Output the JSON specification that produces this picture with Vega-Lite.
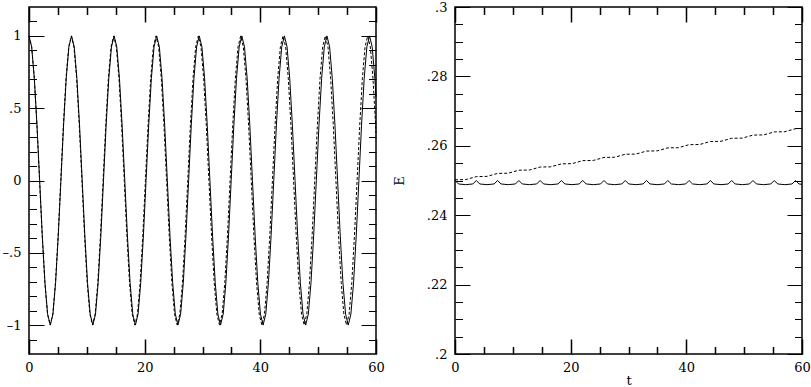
{
 "$schema": "https://vega.github.io/schema/vega-lite/v6.json",
 "padding": {"left": 1, "top": 0, "right": 0, "bottom": 0},
 "background": "white",
 "config": {
  "view": {"stroke": "black", "strokeWidth": 1.5},
  "axis": {"ticks": false, "domain": false, "grid": true, "gridColor": "black", "gridWidth": 1.2, "gridOpacity": 1, "labelFont": "DejaVu Serif", "labelFontSize": 13, "labelColor": "black", "titleFont": "DejaVu Serif", "titleFontSize": 13, "titleFontWeight": "normal", "titleColor": "black", "labelFlush": false, "labelOverlap": false}
 },
 "datasets": {
  "xs": [
   {"t":0,"x":1},{"t":0.46,"x":0.924},{"t":0.92,"x":0.707},{"t":1.38,"x":0.383},{"t":1.84,"x":0},{"t":2.3,"x":-0.383},{"t":2.76,"x":-0.707},{"t":3.22,"x":-0.924},{"t":3.68,"x":-1},{"t":4.14,"x":-0.924},{"t":4.6,"x":-0.707},{"t":5.06,"x":-0.383},{"t":5.52,"x":0},{"t":5.98,"x":0.383},{"t":6.44,"x":0.707},{"t":6.9,"x":0.924},
   {"t":7.36,"x":1},{"t":7.82,"x":0.924},{"t":8.28,"x":0.707},{"t":8.74,"x":0.383},{"t":9.2,"x":0},{"t":9.66,"x":-0.383},{"t":10.12,"x":-0.707},{"t":10.58,"x":-0.924},{"t":11.04,"x":-1},{"t":11.5,"x":-0.924},{"t":11.96,"x":-0.707},{"t":12.42,"x":-0.383},{"t":12.88,"x":0},{"t":13.34,"x":0.383},{"t":13.8,"x":0.707},{"t":14.26,"x":0.924},
   {"t":14.72,"x":1},{"t":15.18,"x":0.924},{"t":15.64,"x":0.707},{"t":16.1,"x":0.383},{"t":16.56,"x":0},{"t":17.02,"x":-0.383},{"t":17.48,"x":-0.707},{"t":17.94,"x":-0.924},{"t":18.4,"x":-1},{"t":18.86,"x":-0.924},{"t":19.32,"x":-0.707},{"t":19.78,"x":-0.383},{"t":20.24,"x":0},{"t":20.7,"x":0.383},{"t":21.16,"x":0.707},{"t":21.62,"x":0.924},
   {"t":22.08,"x":1},{"t":22.54,"x":0.924},{"t":23,"x":0.707},{"t":23.46,"x":0.383},{"t":23.92,"x":0},{"t":24.38,"x":-0.383},{"t":24.84,"x":-0.707},{"t":25.3,"x":-0.924},{"t":25.76,"x":-1},{"t":26.22,"x":-0.924},{"t":26.68,"x":-0.707},{"t":27.14,"x":-0.383},{"t":27.6,"x":0},{"t":28.06,"x":0.383},{"t":28.52,"x":0.707},{"t":28.98,"x":0.924},
   {"t":29.44,"x":1},{"t":29.9,"x":0.924},{"t":30.36,"x":0.707},{"t":30.82,"x":0.383},{"t":31.28,"x":0},{"t":31.74,"x":-0.383},{"t":32.2,"x":-0.707},{"t":32.66,"x":-0.924},{"t":33.12,"x":-1},{"t":33.58,"x":-0.924},{"t":34.04,"x":-0.707},{"t":34.5,"x":-0.383},{"t":34.96,"x":0},{"t":35.42,"x":0.383},{"t":35.88,"x":0.707},{"t":36.34,"x":0.924},
   {"t":36.8,"x":1},{"t":37.26,"x":0.924},{"t":37.72,"x":0.707},{"t":38.18,"x":0.383},{"t":38.64,"x":0},{"t":39.1,"x":-0.383},{"t":39.56,"x":-0.707},{"t":40.02,"x":-0.924},{"t":40.48,"x":-1},{"t":40.94,"x":-0.924},{"t":41.4,"x":-0.707},{"t":41.86,"x":-0.383},{"t":42.32,"x":0},{"t":42.78,"x":0.383},{"t":43.24,"x":0.707},{"t":43.7,"x":0.924},
   {"t":44.16,"x":1},{"t":44.62,"x":0.924},{"t":45.08,"x":0.707},{"t":45.54,"x":0.383},{"t":46,"x":0},{"t":46.46,"x":-0.383},{"t":46.92,"x":-0.707},{"t":47.38,"x":-0.924},{"t":47.84,"x":-1},{"t":48.3,"x":-0.924},{"t":48.76,"x":-0.707},{"t":49.22,"x":-0.383},{"t":49.68,"x":0},{"t":50.14,"x":0.383},{"t":50.6,"x":0.707},{"t":51.06,"x":0.924},
   {"t":51.52,"x":1},{"t":51.98,"x":0.924},{"t":52.44,"x":0.707},{"t":52.9,"x":0.383},{"t":53.36,"x":0},{"t":53.82,"x":-0.383},{"t":54.28,"x":-0.707},{"t":54.74,"x":-0.924},{"t":55.2,"x":-1},{"t":55.66,"x":-0.924},{"t":56.12,"x":-0.707},{"t":56.58,"x":-0.383},{"t":57.04,"x":0},{"t":57.5,"x":0.383},{"t":57.96,"x":0.707},{"t":58.42,"x":0.924},
   {"t":58.88,"x":1},{"t":59.34,"x":0.924},{"t":59.8,"x":0.707},{"t":60,"x":0.577}
  ],
  "xd": [
   {"t":0,"x":1},{"t":0.458,"x":0.924},{"t":0.915,"x":0.707},{"t":1.373,"x":0.383},{"t":1.83,"x":0},{"t":2.288,"x":-0.383},{"t":2.745,"x":-0.707},{"t":3.203,"x":-0.924},{"t":3.66,"x":-1},{"t":4.118,"x":-0.924},{"t":4.575,"x":-0.707},{"t":5.033,"x":-0.383},{"t":5.49,"x":0},{"t":5.948,"x":0.383},{"t":6.405,"x":0.707},{"t":6.863,"x":0.924},
   {"t":7.32,"x":1},{"t":7.778,"x":0.924},{"t":8.235,"x":0.707},{"t":8.693,"x":0.383},{"t":9.15,"x":0},{"t":9.608,"x":-0.383},{"t":10.065,"x":-0.707},{"t":10.523,"x":-0.924},{"t":10.98,"x":-1},{"t":11.438,"x":-0.924},{"t":11.895,"x":-0.707},{"t":12.353,"x":-0.383},{"t":12.81,"x":0},{"t":13.268,"x":0.383},{"t":13.725,"x":0.707},{"t":14.183,"x":0.924},
   {"t":14.64,"x":1},{"t":15.098,"x":0.924},{"t":15.555,"x":0.707},{"t":16.013,"x":0.383},{"t":16.47,"x":0},{"t":16.928,"x":-0.383},{"t":17.385,"x":-0.707},{"t":17.843,"x":-0.924},{"t":18.3,"x":-1},{"t":18.758,"x":-0.924},{"t":19.215,"x":-0.707},{"t":19.673,"x":-0.383},{"t":20.13,"x":0},{"t":20.588,"x":0.383},{"t":21.045,"x":0.707},{"t":21.503,"x":0.924},
   {"t":21.96,"x":1},{"t":22.418,"x":0.924},{"t":22.875,"x":0.707},{"t":23.333,"x":0.383},{"t":23.79,"x":0},{"t":24.248,"x":-0.383},{"t":24.705,"x":-0.707},{"t":25.163,"x":-0.924},{"t":25.62,"x":-1},{"t":26.078,"x":-0.924},{"t":26.535,"x":-0.707},{"t":26.993,"x":-0.383},{"t":27.45,"x":0},{"t":27.908,"x":0.383},{"t":28.365,"x":0.707},{"t":28.823,"x":0.924},
   {"t":29.28,"x":1},{"t":29.738,"x":0.924},{"t":30.195,"x":0.707},{"t":30.653,"x":0.383},{"t":31.11,"x":0},{"t":31.568,"x":-0.383},{"t":32.025,"x":-0.707},{"t":32.483,"x":-0.924},{"t":32.94,"x":-1},{"t":33.398,"x":-0.924},{"t":33.855,"x":-0.707},{"t":34.313,"x":-0.383},{"t":34.77,"x":0},{"t":35.228,"x":0.383},{"t":35.685,"x":0.707},{"t":36.143,"x":0.924},
   {"t":36.6,"x":1},{"t":37.058,"x":0.924},{"t":37.515,"x":0.707},{"t":37.973,"x":0.383},{"t":38.43,"x":0},{"t":38.888,"x":-0.383},{"t":39.345,"x":-0.707},{"t":39.803,"x":-0.924},{"t":40.26,"x":-1},{"t":40.718,"x":-0.924},{"t":41.175,"x":-0.707},{"t":41.633,"x":-0.383},{"t":42.09,"x":0},{"t":42.548,"x":0.383},{"t":43.005,"x":0.707},{"t":43.463,"x":0.924},
   {"t":43.92,"x":1},{"t":44.378,"x":0.924},{"t":44.835,"x":0.707},{"t":45.293,"x":0.383},{"t":45.75,"x":0},{"t":46.208,"x":-0.383},{"t":46.665,"x":-0.707},{"t":47.123,"x":-0.924},{"t":47.58,"x":-1},{"t":48.038,"x":-0.924},{"t":48.495,"x":-0.707},{"t":48.953,"x":-0.383},{"t":49.41,"x":0},{"t":49.868,"x":0.383},{"t":50.325,"x":0.707},{"t":50.783,"x":0.924},
   {"t":51.24,"x":1},{"t":51.698,"x":0.924},{"t":52.155,"x":0.707},{"t":52.613,"x":0.383},{"t":53.07,"x":0},{"t":53.528,"x":-0.383},{"t":53.985,"x":-0.707},{"t":54.443,"x":-0.924},{"t":54.9,"x":-1},{"t":55.358,"x":-0.924},{"t":55.815,"x":-0.707},{"t":56.273,"x":-0.383},{"t":56.73,"x":0},{"t":57.188,"x":0.383},{"t":57.645,"x":0.707},{"t":58.103,"x":0.924},
   {"t":58.56,"x":1},{"t":59.018,"x":0.924},{"t":59.475,"x":0.707},{"t":59.933,"x":0.383},{"t":60,"x":0.329}
  ],
  "es": [
   {"t":0,"E":0.25},{"t":0.6,"E":0.249},{"t":1.84,"E":0.2488},{"t":3.08,"E":0.249},
   {"t":3.68,"E":0.25},{"t":4.28,"E":0.249},{"t":5.52,"E":0.2488},{"t":6.76,"E":0.249},
   {"t":7.36,"E":0.25},{"t":7.96,"E":0.249},{"t":9.2,"E":0.2488},{"t":10.44,"E":0.249},
   {"t":11.04,"E":0.25},{"t":11.64,"E":0.249},{"t":12.88,"E":0.2488},{"t":14.12,"E":0.249},
   {"t":14.72,"E":0.25},{"t":15.32,"E":0.249},{"t":16.56,"E":0.2488},{"t":17.8,"E":0.249},
   {"t":18.4,"E":0.25},{"t":19,"E":0.249},{"t":20.24,"E":0.2488},{"t":21.48,"E":0.249},
   {"t":22.08,"E":0.25},{"t":22.68,"E":0.249},{"t":23.92,"E":0.2488},{"t":25.16,"E":0.249},
   {"t":25.76,"E":0.25},{"t":26.36,"E":0.249},{"t":27.6,"E":0.2488},{"t":28.84,"E":0.249},
   {"t":29.44,"E":0.25},{"t":30.04,"E":0.249},{"t":31.28,"E":0.2488},{"t":32.52,"E":0.249},
   {"t":33.12,"E":0.25},{"t":33.72,"E":0.249},{"t":34.96,"E":0.2488},{"t":36.2,"E":0.249},
   {"t":36.8,"E":0.25},{"t":37.4,"E":0.249},{"t":38.64,"E":0.2488},{"t":39.88,"E":0.249},
   {"t":40.48,"E":0.25},{"t":41.08,"E":0.249},{"t":42.32,"E":0.2488},{"t":43.56,"E":0.249},
   {"t":44.16,"E":0.25},{"t":44.76,"E":0.249},{"t":46,"E":0.2488},{"t":47.24,"E":0.249},
   {"t":47.84,"E":0.25},{"t":48.44,"E":0.249},{"t":49.68,"E":0.2488},{"t":50.92,"E":0.249},
   {"t":51.52,"E":0.25},{"t":52.12,"E":0.249},{"t":53.36,"E":0.2488},{"t":54.6,"E":0.249},
   {"t":55.2,"E":0.25},{"t":55.8,"E":0.249},{"t":57.04,"E":0.2488},{"t":58.28,"E":0.249},
   {"t":58.88,"E":0.25},{"t":59.48,"E":0.249},{"t":60,"E":0.2489}
  ],
  "ed": [
   {"t":0,"E":0.2502},{"t":1.84,"E":0.25026},{"t":3.68,"E":0.25112},{"t":5.52,"E":0.25118},
   {"t":7.36,"E":0.25204},{"t":9.2,"E":0.2521},{"t":11.04,"E":0.25296},{"t":12.88,"E":0.25302},
   {"t":14.72,"E":0.25388},{"t":16.56,"E":0.25394},{"t":18.4,"E":0.2548},{"t":20.24,"E":0.25486},
   {"t":22.08,"E":0.25572},{"t":23.92,"E":0.25578},{"t":25.76,"E":0.25664},{"t":27.6,"E":0.2567},
   {"t":29.44,"E":0.25756},{"t":31.28,"E":0.25762},{"t":33.12,"E":0.25848},{"t":34.96,"E":0.25854},
   {"t":36.8,"E":0.2594},{"t":38.64,"E":0.25946},{"t":40.48,"E":0.26032},{"t":42.32,"E":0.26038},
   {"t":44.16,"E":0.26124},{"t":46,"E":0.2613},{"t":47.84,"E":0.26216},{"t":49.68,"E":0.26222},
   {"t":51.52,"E":0.26308},{"t":53.36,"E":0.26314},{"t":55.2,"E":0.264},{"t":57.04,"E":0.26406},
   {"t":58.88,"E":0.26492},{"t":60,"E":0.265}
  ]
 },
 "spacing": 79,
 "bounds": "flush",
 "hconcat": [
  {
   "width": 347, "height": 347,
   "encoding": {
    "x": {"field": "t", "type": "quantitative", "scale": {"domain": [0, 60], "nice": false, "zero": false},
          "axis": {"orient": "bottom", "title": null, "values": [0,5,10,15,20,25,30,35,40,45,50,55,60],
                   "labelExpr": "datum.value % 20 === 0 ? datum.label : ''",
                   "gridWidth": 1.5,
                   "gridDash": {"condition": {"test": "datum.value % 20 === 0", "value": [15, 317, 15, 1000]}, "value": [7.5, 332, 7.5, 1000]},
                   "labelPadding": 7}},
    "y": {"field": "x", "type": "quantitative", "scale": {"domain": [-1.2, 1.2], "nice": false, "zero": false},
          "axis": {"orient": "left", "title": null, "values": [-1.1,-1,-0.9,-0.8,-0.7,-0.6,-0.5,-0.4,-0.3,-0.2,-0.1,0,0.1,0.2,0.3,0.4,0.5,0.6,0.7,0.8,0.9,1,1.1],
                   "labelExpr": "abs(datum.value*2-round(datum.value*2))<0.001 ? replace(replace(format(datum.value,'~g'),'0.','.'),'−','–') : ''",
                   "gridDash": {"condition": {"test": "abs(datum.value*2-round(datum.value*2))<0.001", "value": [15, 317, 15, 1000]}, "value": [7.5, 332, 7.5, 1000]},
                   "labelPadding": 8}}
   },
   "layer": [
    {"data": {"name": "xs"}, "mark": {"type": "line", "color": "black", "strokeWidth": 1}},
    {"data": {"name": "xd"}, "mark": {"type": "line", "color": "black", "strokeWidth": 1, "strokeDash": [3, 2]}}
   ]
  },
  {
   "width": 347, "height": 347,
   "encoding": {
    "x": {"field": "t", "type": "quantitative", "scale": {"domain": [0, 60], "nice": false, "zero": false},
          "axis": {"orient": "bottom", "title": "t", "titlePadding": 0, "values": [0,5,10,15,20,25,30,35,40,45,50,55,60],
                   "labelExpr": "datum.value % 20 === 0 ? datum.label : ''",
                   "gridWidth": 1.5,
                   "gridDash": {"condition": {"test": "datum.value % 20 === 0", "value": [15, 317, 15, 1000]}, "value": [7.5, 332, 7.5, 1000]},
                   "labelPadding": 7}},
    "y": {"field": "E", "type": "quantitative", "scale": {"domain": [0.2, 0.3], "nice": false, "zero": false},
          "axis": {"orient": "left", "title": "E", "titlePadding": 20, "values": [0.2,0.205,0.21,0.215,0.22,0.225,0.23,0.235,0.24,0.245,0.25,0.255,0.26,0.265,0.27,0.275,0.28,0.285,0.29,0.295,0.3],
                   "labelExpr": "abs(datum.value*50-round(datum.value*50))<0.001 ? replace(format(datum.value,'~g'),'0.','.') : ''",
                   "gridDash": {"condition": {"test": "abs(datum.value*50-round(datum.value*50))<0.001", "value": [15, 317, 15, 1000]}, "value": [7.5, 332, 7.5, 1000]},
                   "labelPadding": 8}}
   },
   "layer": [
    {"data": {"name": "es"}, "mark": {"type": "line", "color": "black", "strokeWidth": 1}},
    {"data": {"name": "ed"}, "mark": {"type": "line", "color": "black", "strokeWidth": 1, "strokeDash": [3, 2]}}
   ]
  }
 ]
}
